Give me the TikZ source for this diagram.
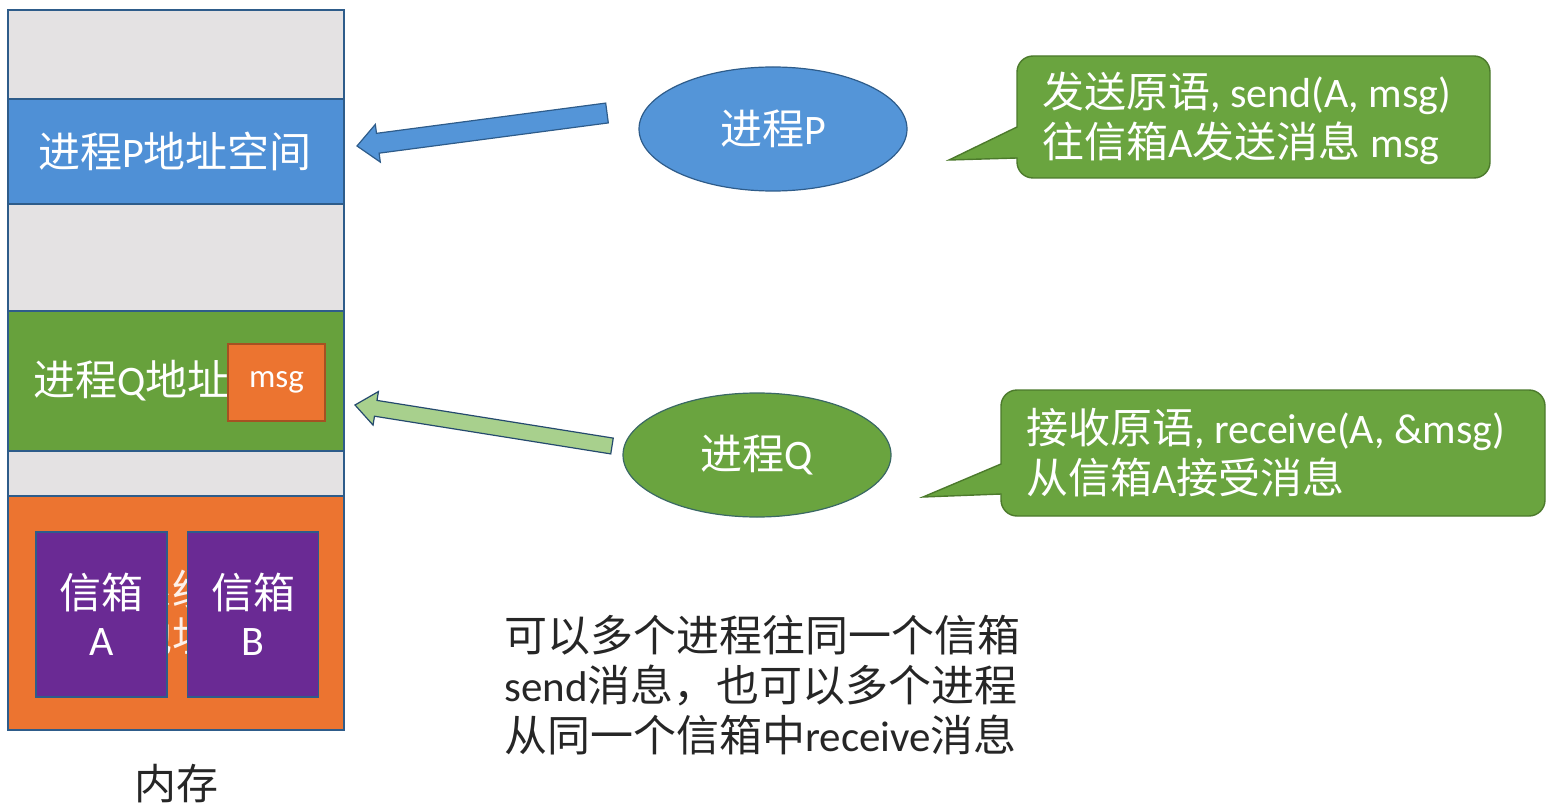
\documentclass[tikz,border=0pt]{standalone}
\usepackage{fontspec}
\setmainfont{Carlito}
\newfontfamily\cj{Noto Sans CJK SC}
\newcommand\zh[1]{{\cj #1}}
\usetikzlibrary{calc,shapes.geometric}
\definecolor{memgray}{HTML}{E4E2E3}
\definecolor{memblue}{HTML}{4F90D6}
\definecolor{memgreen}{HTML}{67A13C}
\definecolor{memorange}{HTML}{EC7430}
\definecolor{boxpurple}{HTML}{6A2A94}
\definecolor{edgeblue}{HTML}{2E5C8A}
\definecolor{callgreen}{HTML}{6AA43F}
\definecolor{calledge}{HTML}{4C7A2C}
\definecolor{arrgreen}{HTML}{A8D08D}
\definecolor{ellblue}{HTML}{5495D8}
\definecolor{ellgreen}{HTML}{6AA43F}
\tikzset{
  seg/.style={draw=edgeblue, line width=1.6pt},
  big/.style={font=\fontsize{42}{50}\selectfont},
  wtxt/.style={big, text=white, inner sep=0pt},
  proc/.style={ellipse, minimum width=268pt, minimum height=124pt, inner sep=0pt, line width=1.2pt, big, text=white},
  callout/.style={fill=callgreen, draw=calledge, line width=1.4pt},
  blockarrow/.style={line width=1.2pt, line join=miter},
  mailbox/.style={draw=edgeblue, line width=1.4pt, fill=boxpurple, minimum width=131pt, minimum height=165pt, inner sep=0pt, align=center, text=white, font=\fontsize{42}{47}\selectfont},
}
\begin{document}
\begin{tikzpicture}[x=1pt, y=-1pt]
\useasboundingbox (0,0) rectangle (1549,810);
% memory column
\path[seg, fill=memgray] (8,10) rectangle (344,99);
\path[seg, fill=memblue] (8,99) rectangle (344,204);
\path[seg, fill=memgray] (8,204) rectangle (344,311);
\path[seg, fill=memgreen] (8,311) rectangle (344,451);
\path[seg, fill=memgray] (8,451) rectangle (344,496);
\path[seg, fill=memorange] (8,496) rectangle (344,730);
\node[wtxt] (memP) at (175,151) {\zh{进程}P\zh{地址空间}};
\node[wtxt, anchor=west] (memQ) at (33,381) {\zh{进程}Q\zh{地址}};
\node[draw=memorange!70!black, line width=1.2pt, fill=memorange, minimum width=97pt, minimum height=77pt, inner sep=0pt, text=white, font=\fontsize{33}{36}\selectfont] (msg) at (276.5,382.5) {msg};
\node[wtxt, text=white!90!memorange, align=center, font=\fontsize{42}{47}\selectfont] (sys) at (172,612) {\zh{系统}\\\zh{地址}};
\node[mailbox] (boxA) at (101.5,614.5) {\zh{信箱}\\A};
\node[mailbox] (boxB) at (253,614.5) {\zh{信箱}\\B};
\node[big, text=black!85, inner sep=0pt] (mem) at (176,784) {\zh{内存}};
% processes
\node[proc, fill=ellblue, draw=edgeblue] (P) at (773,129) {\zh{进程}P};
\node[proc, fill=ellgreen, draw=edgeblue!60!calledge] (Q) at (757,455) {\zh{进程}Q};
% block arrows
\coordinate (pT) at (607,113);
\coordinate (pH) at (357,146);
\coordinate (pB) at ($(pH)!21pt!(pT)$);
\filldraw[blockarrow, fill=ellblue, draw=edgeblue]
  ($(pT)!10pt!90:(pH)$) -- ($(pB)!10pt!-90:(pT)$) -- ($(pB)!19pt!-90:(pT)$) -- (pH)
  -- ($(pB)!19pt!90:(pT)$) -- ($(pB)!10pt!90:(pT)$) -- ($(pT)!10pt!-90:(pH)$) -- cycle;
\coordinate (qT) at (612,446);
\coordinate (qH) at (355,405);
\coordinate (qB) at ($(qH)!21pt!(qT)$);
\filldraw[blockarrow, fill=arrgreen, draw=edgeblue!80!black]
  ($(qT)!8pt!90:(qH)$) -- ($(qB)!8pt!-90:(qT)$) -- ($(qB)!17pt!-90:(qT)$) -- (qH)
  -- ($(qB)!17pt!90:(qT)$) -- ($(qB)!8pt!90:(qT)$) -- ($(qT)!8pt!-90:(qH)$) -- cycle;
% callouts
\filldraw[callout, rounded corners=16pt] (1017,127) -- (1017,56) -- (1490,56) -- (1490,178) -- (1017,178) [sharp corners] -- (1017,158) -- (949,160) -- cycle;
\node[wtxt, anchor=west, align=left, font=\fontsize{42}{50}\selectfont] (cP) at (1042,118) {\zh{发送原语}, send(A, msg)\\\zh{往信箱}A\zh{发送消息} msg};
\filldraw[callout, rounded corners=16pt] (1001,464) -- (1001,390) -- (1545,390) -- (1545,516) -- (1001,516) [sharp corners] -- (1001,494) -- (923,497) -- cycle;
\node[wtxt, anchor=west, align=left, font=\fontsize{42}{50}\selectfont] (cQ) at (1026,453) {\zh{接收原语}, receive(A, \&msg)\\\zh{从信箱}A\zh{接受消息}};
% note
\node[anchor=west, align=left, text=black!85, inner sep=0pt, font=\fontsize{43}{50}\selectfont] (note) at (504,685) {\zh{可以多个进程往同一个信箱}\\send\zh{消息，也可以多个进程}\\\zh{从同一个信箱中}receive\zh{消息}};
\end{tikzpicture}
\end{document}
